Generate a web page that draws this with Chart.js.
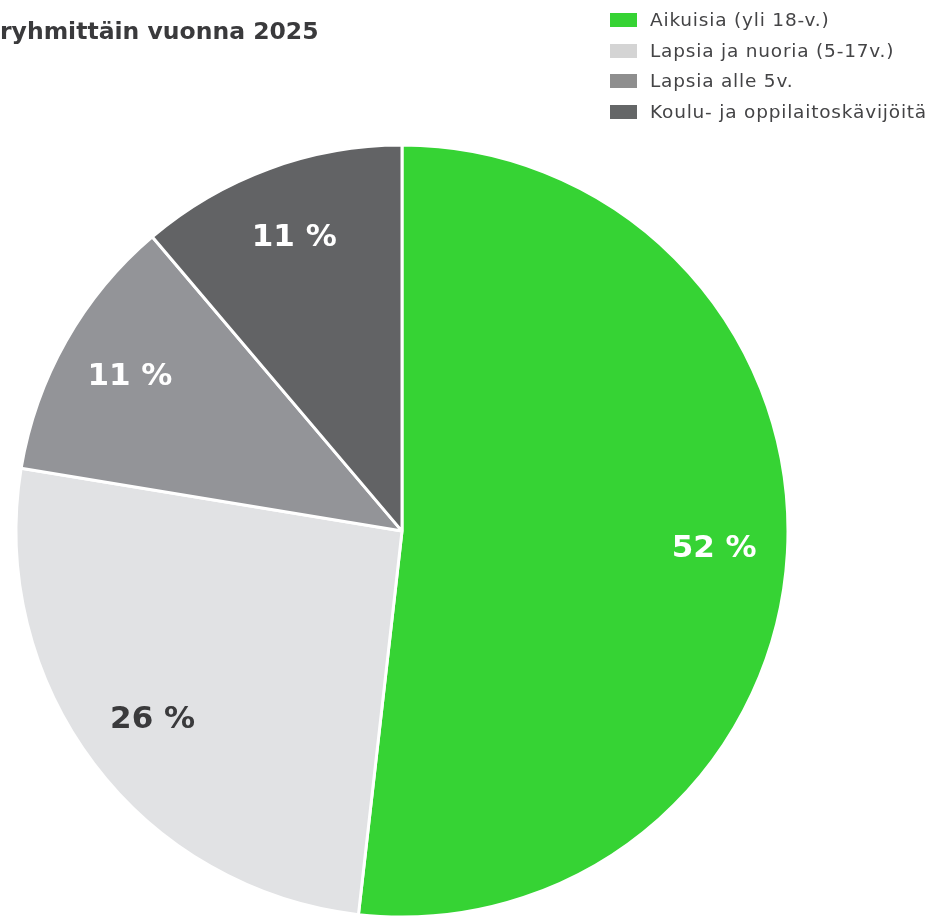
<!DOCTYPE html>
<html>
<head>
<meta charset="utf-8">
<script src="https://cdn.jsdelivr.net/npm/chart.js@4.4.1/dist/chart.umd.min.js"></script>
<style>
  html, body { margin: 0; padding: 0; background: #ffffff; overflow: hidden; }
  #wrap { position: relative; width: 931px; height: 918px; }
  #c { position: absolute; left: 0; top: 0; }
  #legend { position: absolute; left: 610px; top: 5px; font-family: 'DejaVu Sans', sans-serif; font-size: 18.5px; color: #444446; letter-spacing: 0.8px; }
  .item { position: relative; height: 30.5px; line-height: 30.5px; white-space: nowrap; }
  .box { position: absolute; left: 0; top: 8px; width: 27px; height: 14px; }
  .txt { position: absolute; left: 40px; top: 0; }
</style>
</head>
<body>
<div id="wrap">
  <canvas id="c" width="931" height="918"></canvas>
  <div id="legend"></div>
</div>
<script>
const titleText = 'ryhmittäin vuonna 2025';
const categories = ['Aikuisia (yli 18-v.)', 'Lapsia ja nuoria (5-17v.)', 'Lapsia alle 5v.', 'Koulu- ja oppilaitoskävijöitä'];
const shares = [51.8, 25.8, 11.2, 11.2];
const sliceColors = ['#36d334', '#e1e2e4', '#939498', '#626365'];
const legendColors = ['#36d334', '#d4d4d4', '#8e8e8e', '#646667'];
const labelColors = ['#ffffff', '#3a3a3c', '#ffffff', '#ffffff'];

// HTML legend built from the arrays
const legendEl = document.getElementById('legend');
categories.forEach((name, i) => {
  const item = document.createElement('div');
  item.className = 'item';
  const box = document.createElement('span');
  box.className = 'box';
  box.style.background = legendColors[i];
  const txt = document.createElement('span');
  txt.className = 'txt';
  txt.textContent = name;
  item.appendChild(box);
  item.appendChild(txt);
  legendEl.appendChild(item);
});

const sliceLabels = {
  id: 'sliceLabels',
  afterDatasetsDraw(chart) {
    const ctx = chart.ctx;
    const meta = chart.getDatasetMeta(0);
    ctx.save();
    ctx.font = 'bold 31px "DejaVu Sans", sans-serif';
    ctx.textAlign = 'center';
    ctx.textBaseline = 'middle';
    meta.data.forEach((arc, i) => {
      const p = arc.getProps(['x', 'y', 'startAngle', 'endAngle', 'outerRadius'], true);
      const mid = (p.startAngle + p.endAngle) / 2;
      const r = p.outerRadius * 0.81;
      ctx.fillStyle = labelColors[i];
      ctx.fillText(Math.round(shares[i]) + ' %', p.x + Math.cos(mid) * r, p.y + Math.sin(mid) * r);
    });
    ctx.restore();
  }
};

new Chart(document.getElementById('c'), {
  type: 'pie',
  data: {
    labels: categories,
    datasets: [{
      data: shares,
      backgroundColor: sliceColors,
      borderColor: '#ffffff',
      borderWidth: 3,
      clip: false
    }]
  },
  options: {
    responsive: false,
    animation: false,
    radius: 386,
    layout: { padding: { left: 0, right: 127, top: 0, bottom: 0 } },
    plugins: {
      legend: { display: false },
      tooltip: { enabled: false },
      title: {
        display: true,
        text: titleText,
        align: 'start',
        color: '#3a3a3c',
        font: { family: '"DejaVu Sans", sans-serif', size: 23.5, weight: 'bold' },
        padding: { top: 19, bottom: 97 }
      }
    }
  },
  plugins: [sliceLabels]
});
</script>
</body>
</html>
